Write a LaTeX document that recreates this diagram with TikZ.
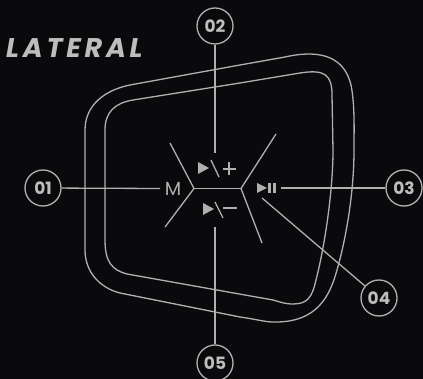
\documentclass[tikz,border=0pt]{standalone}
\usepackage{fontspec}
\setmainfont{Poppins}
\newfontfamily\titlefont[LetterSpace=14]{Poppins}
\definecolor{bgc}{HTML}{0A0A0D}
\definecolor{ln}{HTML}{B0B0B0}
\definecolor{tx}{HTML}{BDBDBD}
\tikzset{
  wire/.style={draw=ln,line width=1.3pt},
  shell/.style={draw=ln,line width=1.3pt},
  callout/.style={circle,draw=ln,line width=1.3pt,minimum size=36pt,inner sep=0pt,text=tx,font=\fontsize{17}{17}\selectfont\bfseries},
  glyph/.style={fill=ln,draw=none},
}
\begin{document}
\begin{tikzpicture}[x=1pt,y=-1pt]
\fill[bgc] (0,0) rectangle (423,379);
\useasboundingbox (0,0) rectangle (423,379);
% shells
\draw[shell] (85,250) -- (85,130) .. controls (85,105) and (105,90) .. (130,85)
  -- (240,65) -- (285,57) .. controls (325,48) and (345,60) .. (351,85)
  .. controls (355,105) and (354,130) .. (354,150)
  .. controls (354,190) and (347,235) .. (337,270)
  .. controls (330,295) and (318,323) .. (273,322)
  .. controls (265,322) and (255,319) .. (240,317)
  -- (120,293) .. controls (100,288) and (85,272) .. (85,250) -- cycle;
\draw[shell] (105,240) -- (105,130) .. controls (105,112) and (115,103) .. (133,100)
  -- (240,83) -- (300,73) .. controls (325,69) and (332,75) .. (332,95)
  -- (333,150) .. controls (333,190) and (325,245) .. (316,280)
  .. controls (312,298) and (307,304) .. (293,304)
  .. controls (285,304) and (280,302) .. (273,300)
  -- (127,274) .. controls (112,270) and (105,262) .. (105,240) -- cycle;
% callouts
\node[callout] (n1) at (43,188) {01};
\node[callout] (n2) at (215,26) {02};
\node[callout] (n3) at (404,188) {03};
\node[callout] (n4) at (379,298) {04};
\node[callout] (n5) at (215,363) {05};
\node[text=ln,font=\fontsize{19}{19}\selectfont,inner sep=0pt] (mlabel) at (173,188.5) {M};
\node[text=tx,font=\titlefont\fontsize{27}{27}\selectfont\bfseries\itshape,inner sep=0pt,anchor=west] (title) at (6,48.5) {LATERAL};
% connector ends
\coordinate (e1) at (160,188.5);
\coordinate (e2) at (216,153);
\coordinate (e3) at (281,188);
\coordinate (e4) at (262,198);
\coordinate (e5) at (216,227);
\draw[wire] (n1) -- (e1);
\draw[wire] (n2.south) -- (n2.south |- e2);
\draw[wire] (n3) -- (e3);
\draw[wire] (n4) -- (e4);
\draw[wire] (n5.north) -- (n5.north |- e5);
% centre hub
\coordinate (hl) at (194,188.5);
\coordinate (hr) at (241,188.5);
\coordinate (a1) at (170,143);
\coordinate (a2) at (165,227);
\coordinate (a3) at (276,134);
\coordinate (a4) at (262,243);
\draw[wire] (a1) -- (hl) -- (a2);
\draw[wire] (hl) -- (hr);
\draw[wire] (a3) -- (hr) -- (a4);
% icons
\fill[glyph] (198,162) -- (209,168) -- (198,174) -- cycle;
\draw[wire] (211,160) -- (219,177);
\draw[wire] (222.5,169) -- (235.5,169);
\draw[wire] (229,162.5) -- (229,175.5);
\fill[glyph] (203,203) -- (214,209) -- (203,215) -- cycle;
\draw[wire] (215,202) -- (223,218);
\draw[wire] (223,208) -- (237,208);
\fill[glyph] (257,183) -- (267,188) -- (257,193) -- cycle;
\fill[glyph] (268,183) rectangle (271,193);
\fill[glyph] (273,183) rectangle (276,193);
\end{tikzpicture}
\end{document}
